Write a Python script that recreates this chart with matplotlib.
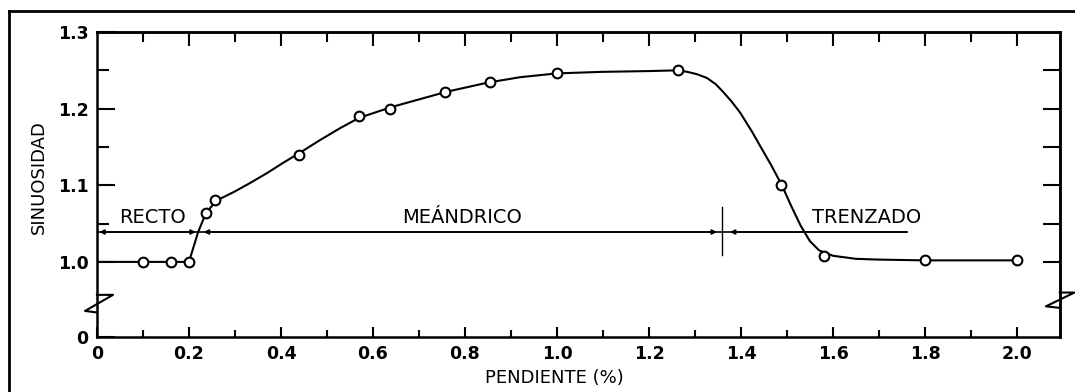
import matplotlib.pyplot as plt
from matplotlib.lines import Line2D

# puntos medidos (pendiente %, sinuosidad)
pts_x = [0.10, 0.16, 0.20, 0.237, 0.257, 0.44, 0.57, 0.637, 0.757, 0.854, 1.00, 1.263, 1.487, 1.58, 1.80, 2.00]
pts_y = [1.000, 1.000, 1.000, 1.064, 1.081, 1.140, 1.190, 1.200, 1.222, 1.235, 1.246, 1.250, 1.100, 1.008, 1.002, 1.002]

# curva ajustada
curve_x = [0.0, 0.10, 0.16, 0.20, 0.22, 0.237, 0.26, 0.30, 0.333, 0.37, 0.404, 0.44, 0.485,
           0.53, 0.57, 0.64, 0.70, 0.76, 0.85, 0.92, 1.00, 1.10, 1.20, 1.263, 1.283, 1.304,
           1.326, 1.345, 1.361, 1.38, 1.398, 1.424, 1.441, 1.465, 1.489, 1.51, 1.53, 1.55,
           1.57, 1.60, 1.65, 1.70, 1.80, 1.90, 2.00]
curve_y = [1.000, 1.000, 1.000, 1.000, 1.039, 1.064, 1.080, 1.092, 1.103, 1.116, 1.129, 1.142,
           1.159, 1.175, 1.188, 1.202, 1.212, 1.222, 1.234, 1.241, 1.246, 1.248, 1.249, 1.250,
           1.248, 1.245, 1.240, 1.232, 1.222, 1.209, 1.195, 1.170, 1.152, 1.127, 1.100, 1.072,
           1.047, 1.027, 1.015, 1.008, 1.004, 1.003, 1.002, 1.002, 1.002]

# clasificacion del cauce
clases = ['RECTO', 'MEÁNDRICO', 'TRENZADO']
clase_x = [0.12, 0.793, 1.674]
clase_ini = [0.005, 0.232, 1.376]
clase_fin = [0.215, 1.348, 1.76]
y_clase = 1.039
x_limite = 1.359

x_ticks = [0, 0.2, 0.4, 0.6, 0.8, 1.0, 1.2, 1.4, 1.6, 1.8, 2.0]
x_labels = ['0', '0.2', '0.4', '0.6', '0.8', '1.0', '1.2', '1.4', '1.6', '1.8', '2.0']
y_cero = 0.902  # posicion del "0" tras el corte del eje
y_ticks = [y_cero, 1.0, 1.1, 1.2, 1.3]
y_labels = ['0', '1.0', '1.1', '1.2', '1.3']

fig = plt.figure(figsize=(10.75, 3.92), dpi=100)
ax = fig.add_axes([0.0902, 0.1403, 0.8956, 0.7781])

ax.plot(curve_x, curve_y, color='black', lw=1.5, zorder=3)
ax.plot(pts_x, pts_y, 'o', ms=7, mfc='white', mec='black', mew=1.5, zorder=4)

# linea de clasificacion con flechas
ax.plot([0, clase_fin[-1]], [y_clase, y_clase], color='black', lw=1.2)
for i, nombre in enumerate(clases):
    estilo = '<|-|>' if i < 2 else '<|-'
    ax.annotate('', xy=(clase_fin[i], y_clase), xytext=(clase_ini[i], y_clase),
                arrowprops=dict(arrowstyle=estilo, color='black', lw=1.2,
                                mutation_scale=7, shrinkA=0, shrinkB=0))
    ax.text(clase_x[i], 1.058, nombre, ha='center', va='center', fontsize=14)
ax.plot([x_limite, x_limite], [1.009, 1.072], color='black', lw=1.0)

ax.set_xlim(0, 2.093)
ax.set_ylim(y_cero, 1.3)
ax.set_xticks(x_ticks)
ax.set_xticklabels(x_labels, fontsize=12.5, fontweight='bold')
ax.set_xticks([0.1 + 0.2 * i for i in range(10)], minor=True)
ax.set_yticks(y_ticks)
ax.set_yticklabels(y_labels, fontsize=12.5, fontweight='bold')
ax.set_yticks([1.05, 1.15, 1.25], minor=True)
ax.tick_params(axis='x', which='major', direction='in', length=7, width=1.5, pad=6)
ax.tick_params(axis='x', which='minor', direction='in', length=5, width=1.5)
ax.tick_params(axis='y', which='major', direction='in', length=13, width=1.5, pad=6)
ax.tick_params(axis='y', which='minor', direction='in', length=8.5, width=1.5)
for s in ax.spines.values():
    s.set_linewidth(1.8)

top = ax.secondary_xaxis('top')
top.set_xticks(x_ticks[1:])
top.set_xticks([0.1 + 0.2 * i for i in range(10)], minor=True)
top.tick_params(which='major', direction='in', length=10, width=1.5, labeltop=False)
top.tick_params(which='minor', direction='in', length=7, width=1.5)
top.spines['top'].set_linewidth(1.8)

der = ax.secondary_yaxis('right')
der.set_yticks([1.0, 1.05, 1.1, 1.15, 1.2, 1.25])
der.tick_params(direction='in', length=12, width=1.5, labelright=False)
der.spines['right'].set_linewidth(1.8)

# cortes del eje y (zigzag)
ax.plot([0, 0.035, -0.026, 0], [0.957, 0.957, 0.936, 0.934], color='black', lw=1.5, clip_on=False)
ax.plot([2.093, 2.125, 2.063, 2.093], [0.960, 0.960, 0.942, 0.940], color='black', lw=1.5, clip_on=False)

fig.text(0.036, 0.548, 'SINUOSIDAD', rotation=90, ha='center', va='center', fontsize=13)
fig.text(0.516, 0.036, 'PENDIENTE (%)', ha='center', va='center', fontsize=13)

# marco exterior
fig.add_artist(Line2D([0.008, 1.0], [0.972, 0.972], color='black', lw=2))
fig.add_artist(Line2D([0.008, 0.008], [0.0, 0.972], color='black', lw=2))

fig.savefig('out.png', dpi=100)
